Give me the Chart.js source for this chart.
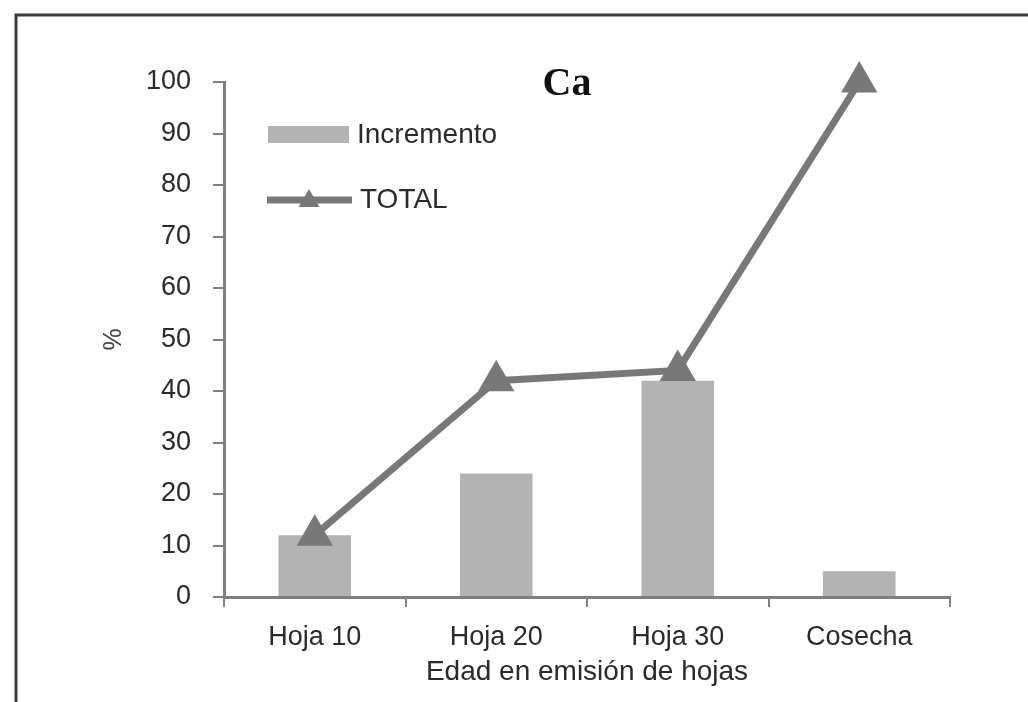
<!DOCTYPE html>
<html lang="es">
<head>
<meta charset="utf-8">
<title>Ca</title>
<script src="https://cdn.jsdelivr.net/npm/chart.js@4/dist/chart.umd.min.js"></script>
<style>
  html, body { margin: 0; padding: 0; background: #fff; }
  #wrap { position: relative; width: 1028px; height: 702px; }
</style>
</head>
<body>
<div id="wrap"><canvas id="chart"></canvas></div>
<script>
// Calcium accumulation by leaf-emission age
const categories = ['Hoja 10', 'Hoja 20', 'Hoja 30', 'Cosecha'];
const incremento = [12, 24, 42, 5];
const total = [12, 42, 44, 100];
const yTicks = [0, 10, 20, 30, 40, 50, 60, 70, 80, 90, 100];

const BAR_COLOR = '#b3b3b3';
const LINE_COLOR = '#787878';
const AXIS_COLOR = '#7f7f7f';
const TEXT_COLOR = '#2a2a2a';
const SANS = '"Liberation Sans", Arial, sans-serif';

function triangle(ctx, x, y, r) {
  ctx.beginPath();
  for (let i = 0; i < 3; i++) {
    const a = i * 2 * Math.PI / 3;
    const px = x + Math.sin(a) * r, py = y - Math.cos(a) * r;
    if (i === 0) ctx.moveTo(px, py); else ctx.lineTo(px, py);
  }
  ctx.closePath();
}

// Frame, title "Ca" and the in-plot legend
const decor = {
  id: 'decor',
  beforeDraw(chart) {
    const { ctx, width, height } = chart;
    ctx.save();
    ctx.fillStyle = '#fff';
    ctx.fillRect(0, 0, width, height);
    ctx.strokeStyle = '#3a3a3a';
    ctx.lineWidth = 3;
    ctx.beginPath();
    ctx.moveTo(16, height);
    ctx.lineTo(16, 15);
    ctx.lineTo(width, 15);
    ctx.stroke();
    ctx.restore();
  },
  afterDatasetsDraw(chart) {
    const { ctx, chartArea } = chart;
    const ds = chart.data.datasets;
    ctx.save();
    // title
    ctx.fillStyle = '#111';
    ctx.font = 'bold 40px "Liberation Serif", "Times New Roman", serif';
    ctx.textAlign = 'center';
    ctx.textBaseline = 'alphabetic';
    ctx.fillText('Ca', chartArea.left + 343, chartArea.top + 13);

    // legend
    const lx = chartArea.left + 44;
    ctx.font = '28px ' + SANS;
    ctx.textAlign = 'left';
    ctx.textBaseline = 'middle';

    const bar = ds.find(d => d.type === 'bar');
    ctx.fillStyle = bar.backgroundColor;
    ctx.fillRect(lx, chartArea.top + 44, 81, 17);
    ctx.fillStyle = TEXT_COLOR;
    ctx.fillText(bar.label, lx + 89, chartArea.top + 53);

    const line = ds.find(d => d.type === 'line');
    const ly = chartArea.top + 118;
    ctx.strokeStyle = line.borderColor;
    ctx.lineWidth = 7;
    ctx.beginPath();
    ctx.moveTo(lx - 1, ly);
    ctx.lineTo(lx + 84, ly);
    ctx.stroke();
    ctx.fillStyle = line.pointBackgroundColor;
    triangle(ctx, lx + 41, ly + 1, 12);
    ctx.fill();
    ctx.fillStyle = TEXT_COLOR;
    ctx.fillText(line.label, lx + 92, ly);
    ctx.restore();
  }
};

new Chart(document.getElementById('chart'), {
  data: {
    labels: categories,
    datasets: [
      {
        type: 'line',
        label: 'TOTAL',
        data: total,
        borderColor: LINE_COLOR,
        borderWidth: 7,
        pointStyle: 'triangle',
        pointRadius: 19,
        pointBorderWidth: 2,
        pointBackgroundColor: LINE_COLOR,
        pointBorderColor: LINE_COLOR,
        tension: 0,
        clip: false,
        order: 0
      },
      {
        type: 'bar',
        label: 'Incremento',
        data: incremento,
        backgroundColor: BAR_COLOR,
        borderWidth: 0,
        categoryPercentage: 1,
        barPercentage: 0.4,
        order: 1
      }
    ]
  },
  options: {
    responsive: true,
    maintainAspectRatio: false,
    animation: false,
    layout: { padding: { left: 0, top: 82, right: 78, bottom: 0 } },
    plugins: { legend: { display: false }, title: { display: false }, tooltip: { enabled: false } },
    scales: {
      x: {
        offset: true,
        afterFit(scale) { scale.height = 105; },
        grid: { offset: true, drawOnChartArea: false, drawTicks: true, tickLength: 10, color: AXIS_COLOR, lineWidth: 2 },
        border: { display: true, color: AXIS_COLOR, width: 3 },
        ticks: { color: TEXT_COLOR, font: { family: SANS, size: 27 }, padding: 14, maxRotation: 0 },
        title: { display: true, text: 'Edad en emisión de hojas', color: TEXT_COLOR,
                 font: { family: SANS, size: 28 }, padding: { top: 0, bottom: 13 } }
      },
      y: {
        min: 0,
        max: 100,
        afterFit(scale) { scale.width = 224; },
        afterBuildTicks(scale) { scale.ticks = yTicks.map(v => ({ value: v })); },
        grid: { drawOnChartArea: false, drawTicks: true, tickLength: 11, color: AXIS_COLOR, lineWidth: 2 },
        border: { display: true, color: AXIS_COLOR, width: 3 },
        ticks: { color: TEXT_COLOR, font: { family: SANS, size: 27 }, padding: 22 },
        title: { display: true, text: '%', color: '#444', font: { family: SANS, size: 25 },
                 padding: { top: 99, bottom: 0 } }
      }
    }
  },
  plugins: [decor]
});
</script>
</body>
</html>
